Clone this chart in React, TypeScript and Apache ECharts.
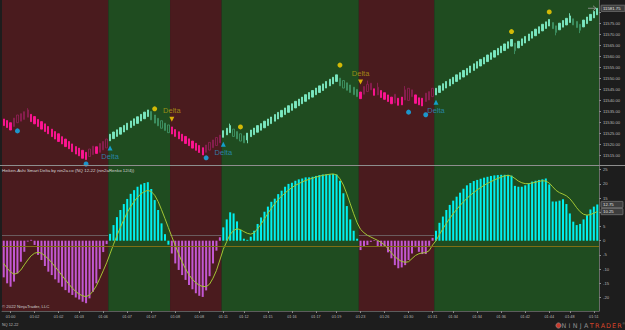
import React, { useEffect, useRef } from "react";
import * as echarts from "echarts";

// ---------------- data ----------------
const haOpen = [
  11531.6, 11530.9, 11529.9, 11528.2, 11529.9, 11530.6, 11531.4, 11532.4, 11533.7, 11532.7, 11531.4, 11530.4, 11529.4, 11528.2, 11527.0, 11525.9, 11524.9, 11523.6, 11522.5, 11521.4, 11520.3, 11519.1, 11518.4, 11517.4, 11516.5, 11514.6, 11515.5, 11519.0, 11516.5, 11517.6, 11518.5,
  11521.7, 11522.7, 11523.7, 11524.7, 11525.7, 11526.7, 11527.7, 11528.7, 11529.6, 11530.7, 11531.7, 11532.7, 11535.0, 11533.4, 11531.9, 11530.8, 11529.7, 11528.9,
  11528.0, 11526.8, 11525.8, 11524.7, 11523.7, 11522.6, 11521.6, 11520.6, 11519.6, 11518.6, 11516.5, 11517.5, 11518.6, 11519.6, 11520.8,
  11523.3, 11524.4, 11525.4, 11527.0, 11525.9, 11524.9, 11524.0, 11522.1, 11523.6,
  11524.5, 11525.6, 11526.5, 11527.6, 11528.6, 11529.5, 11530.6, 11531.6, 11532.5, 11533.6, 11534.6, 11535.5, 11536.6, 11537.6, 11538.5, 11539.6, 11540.6, 11541.5, 11542.6, 11543.6, 11544.5, 11545.6, 11546.6, 11547.5, 11548.6,
  11550.1, 11549.0, 11548.0, 11547.0, 11546.0, 11545.0,
  11543.8, 11542.8, 11544.0, 11544.8, 11545.3, 11542.5, 11544.5, 11543.5, 11542.5, 11541.5, 11538.8, 11541.0, 11541.5, 11540.2, 11540.0, 11541.7, 11542.5, 11541.2, 11541.0, 11539.5, 11540.2, 11541.7,
  11542.5, 11543.6, 11544.6, 11545.6, 11546.6, 11547.5, 11548.6, 11549.6, 11550.6, 11551.5, 11552.6, 11553.6, 11554.6, 11555.6, 11556.5, 11557.6, 11558.6, 11559.6, 11560.6, 11561.6, 11562.6, 11563.6, 11564.6,
  11566.0, 11563.8, 11564.9, 11566.0, 11567.1, 11568.2, 11569.3, 11570.4, 11571.5, 11572.6, 11573.7,
  11575.3, 11573.8, 11572.0, 11573.2, 11574.2, 11575.3, 11577.0, 11575.8, 11574.5, 11573.3, 11574.8, 11576.2, 11577.4, 11578.8,
];
const haClose = [
  11528.6, 11527.7, 11526.6, 11532.0, 11533.4, 11534.0, 11534.9, 11535.7, 11530.4, 11529.4, 11528.2, 11527.0, 11525.9, 11524.9, 11523.6, 11522.5, 11521.4, 11520.3, 11519.1, 11518.1, 11516.8, 11515.7, 11514.9, 11513.8, 11513.2, 11518.0, 11519.3, 11516.0, 11520.5, 11521.4, 11522.5,
  11524.7, 11525.7, 11526.7, 11527.7, 11528.7, 11529.7, 11530.7, 11531.7, 11532.6, 11533.7, 11534.7, 11535.7, 11531.2, 11529.7, 11528.5, 11527.4, 11526.4, 11525.4,
  11524.8, 11523.7, 11522.6, 11521.6, 11520.5, 11519.5, 11518.4, 11517.4, 11516.4, 11515.3, 11519.8, 11521.0, 11522.1, 11523.2, 11524.3,
  11526.3, 11527.4, 11528.6, 11523.7, 11522.6, 11521.6, 11520.8, 11525.2, 11526.6,
  11527.5, 11528.6, 11529.5, 11530.6, 11531.6, 11532.5, 11533.6, 11534.6, 11535.5, 11536.6, 11537.6, 11538.5, 11539.6, 11540.6, 11541.5, 11542.6, 11543.6, 11544.5, 11545.6, 11546.6, 11547.5, 11548.6, 11549.6, 11550.5, 11551.6,
  11546.6, 11545.6, 11544.6, 11543.6, 11542.6, 11541.7,
  11540.8, 11546.3, 11547.3, 11547.8, 11542.3, 11546.0, 11541.3, 11540.5, 11539.5, 11538.5, 11542.8, 11537.8, 11538.0, 11544.8, 11545.5, 11544.8, 11538.7, 11538.0, 11537.5, 11543.3, 11544.0, 11545.5,
  11545.5, 11546.6, 11547.6, 11548.6, 11549.6, 11550.5, 11551.6, 11552.6, 11553.6, 11554.5, 11555.6, 11556.6, 11557.6, 11558.6, 11559.5, 11560.6, 11561.6, 11562.6, 11563.6, 11564.6, 11565.6, 11566.6, 11567.6,
  11562.5, 11566.8, 11567.9, 11569.0, 11570.1, 11571.2, 11572.3, 11573.4, 11574.5, 11575.6, 11576.7,
  11572.5, 11570.8, 11575.0, 11576.2, 11577.2, 11578.3, 11574.2, 11573.0, 11571.8, 11576.4, 11577.8, 11579.0, 11580.3, 11581.75,
];
// [bar, low, high] for bars with visible wicks
const wicks = [
  [7, 11532.4, 11536.5], [66, 11525.4, 11529.5], [71, 11520.6, 11525.2], [106, 11544.0, 11549.0],
  [109, 11542.5, 11548.0], [117, 11540.2, 11546.5], [149, 11561.0, 11566.0], [161, 11569.5, 11573.8],
  [165, 11575.3, 11579.5], [168, 11570.5, 11574.5],
];
const histogram = [
  -12.9, -15.0, -16.2, -14.4, -11.5, -7.4, -3.9, -0.3, 0.3, -1.5, -5.0, -6.8, -8.9, -10.9, -12.1, -13.6, -14.8, -16.2, -17.4, -18.3, -19.1, -20.0, -20.7, -21.5, -22.0, -20.3, -18.0, -15.0, -10.0, -4.0, -1.2,
  2.4, 5.5, 8.3, 10.8, 12.9, 14.7, 16.5, 17.8, 19.0, 19.8, 20.3, 20.6, 18.2, 14.3, 10.8, 6.1, 2.3, -1.4,
  -4.5, -8.0, -10.3, -12.1, -13.8, -15.6, -17.1, -18.5, -19.4, -19.8, -17.5, -12.5, -8.0, -3.5, 1.2,
  4.7, 7.5, 10.0, 9.6, 6.8, 3.8, 0.7, 0.3, 1.4, 3.5, 5.9, 8.2, 10.2, 12.0, 13.7, 14.8, 16.4, 17.6, 19.0, 20.0, 20.4, 21.1, 21.6, 21.9, 22.3, 22.3, 22.5, 22.8, 23.1, 23.3, 23.4, 23.4, 23.5, 23.3, 21.1, 16.7, 12.2, 7.5, 3.5, 0.7,
  -3.3, -2.1, -1.5, -0.4, 0.2, -2.1, -2.0, -2.2, -4.1, -6.2, -8.6, -9.7, -9.4, -8.6, -6.8, -4.5, -2.3, -3.9, -4.7, -4.7, -1.8, 1.0,
  3.5, 6.3, 8.5, 10.8, 12.6, 14.1, 15.5, 16.9, 18.3, 19.5, 20.3, 21.0, 21.4, 21.8, 22.2, 22.5, 22.8, 23.0, 23.1, 23.2, 23.2, 23.2, 22.9,
  19.3, 19.0, 19.0, 19.5, 20.2, 20.8, 21.1, 21.4, 21.6, 21.9, 19.8,
  13.8, 13.8, 14.1, 14.6, 12.9, 9.6, 6.7, 5.5, 5.9, 7.5, 9.0, 11.0, 12.0, 12.75,
];
const signal = [
  -8.0, -9.7, -11.0, -11.8, -11.4, -10.3, -8.5, -6.8, -5.3, -4.4, -4.1, -4.4, -5.3, -6.4, -7.7, -9.2, -10.7, -12.3, -13.8, -15.3, -16.7, -17.9, -18.8, -19.4, -19.7, -19.1, -17.8, -15.9, -13.3, -10.6, -7.8,
  -4.6, -1.3, 1.8, 4.7, 7.4, 9.9, 12.0, 13.8, 15.3, 16.5, 17.3, 17.7, 17.3, 16.0, 13.8, 10.9, 7.8, 4.6,
  1.4, -1.7, -4.7, -7.5, -9.9, -12.0, -13.6, -14.8, -15.7, -16.1, -16.2, -15.3, -13.2, -10.5, -6.8,
  -3.0, -0.3, 2.2, 3.6, 4.2, 3.9, 3.2, 2.6, 2.3, 2.8, 4.2, 5.8, 7.7, 9.6, 11.4, 13.0, 14.5, 15.7, 16.8, 17.8, 18.7, 19.5, 20.1, 20.7, 21.2, 21.6, 22.0, 22.4, 22.7, 23.0, 23.2, 23.4, 23.5, 23.2, 21.8, 19.6, 16.5, 13.0, 9.5, 6.3,
  4.0, 2.8, 1.9, 1.3, 0.7, 0.1, -0.6, -1.5, -2.8, -4.3, -5.6, -6.6, -7.3, -7.6, -7.4, -6.3, -5.2, -4.6, -4.3, -4.2, -3.5, -1.5,
  0.0, 2.2, 4.2, 6.1, 7.9, 9.5, 11.0, 12.4, 13.7, 14.9, 16.0, 17.0, 17.9, 18.7, 19.5, 20.2, 20.8, 21.4, 21.9, 22.4, 22.8, 23.0, 22.7,
  21.9, 21.0, 20.4, 20.1, 20.1, 20.3, 20.6, 20.9, 21.1, 21.0, 20.3,
  19.0, 17.7, 16.9, 16.4, 15.8, 14.8, 13.3, 11.6, 10.2, 9.3, 9.0, 9.2, 9.7, 10.25,
];
// trend segments (bar ranges) and direction (1 = up/green, 0 = down/red)
const segStart = [0, 31, 49, 64, 104, 126];
const segEnd = [30, 48, 63, 103, 125, 173];
const segUp = [0, 1, 0, 1, 0, 1];
// markers: [bar, price]
const cyanDots = [[4, 11526.2], [24, 11511.2], [59, 11514.0], [118, 11534.7], [123, 11533.5]];
const yellowDots = [[44, 11536.2], [69, 11528.0], [98, 11556.0], [148, 11571.2], [159, 11580.1]];
const cyanDeltas = [[31, 11518.5], [64, 11520.2], [126, 11539.2]];
const yellowDeltas = [[49, 11531.5], [104, 11548.3]];
// axis ticks
const timeTickBars = [2, 9, 16, 22, 29, 36, 43, 50, 57, 64, 70, 77, 84, 91, 97, 104, 111, 118, 125, 131, 138, 145, 152, 159, 165, 172];
const timeTickLabels = ["01:00", "01:02", "01:02", "01:03", "01:06", "01:07", "01:07", "01:08", "01:08", "01:11", "01:12", "01:15", "01:16", "01:17", "01:19", "01:23", "01:26", "01:30", "01:31", "01:34", "01:34", "01:36", "01:42", "01:44", "01:48", "01:51"];
const priceTicks = [11515, 11520, 11525, 11530, 11535, 11540, 11545, 11550, 11555, 11560, 11565, 11570, 11575, 11580];
const priceLabels = [11515, 11520, 11525, 11530, 11535, 11540, 11545, 11550, 11555, 11560, 11565, 11570, 11575];
const deltaTicks = [-20, -15, -10, -5, 0, 5, 10, 15, 20, 25];
const deltaLabels = [-20, -15, -10, -5, 0, 5, 15, 20, 25];
const levelUpper = 2;
const levelLower = -2;
const logoText = "NINJATRADER";

// ---------------- styles ----------------
const RED_BG = "#4a1b1e";
const GREEN_BG = "#1f4c20";
const MINT = "#7ae8c2";
const HOLLOW_GREEN = "#3f9466";
const PINK = "#ff1493";
const HOLLOW_RED = "#8c1f52";
const CYAN = "#00f0f0";
const ORCHID = "#c257d2";
const SIGNAL = "#a3c634";
const FONT = "Liberation Sans, Arial, sans-serif";
const CLEAR = "rgba(0,0,0,0)";

const isUpBar = (i: number) => {
  for (let k = 0; k < segStart.length; k++) if (i >= segStart[k] && i <= segEnd[k]) return segUp[k] === 1;
  return false;
};

export default function App() {
  const ref = useRef<HTMLDivElement>(null);
  useEffect(() => {
    const chart = echarts.init(ref.current!, null, { renderer: "svg" });
    const cats = haOpen.map((_, i) => String(i));
    const wickMap = new Map<number, number[]>();
    wicks.forEach((w) => wickMap.set(w[0], w));
    const candleData = haOpen.map((o, i) => {
      const c = haClose[i];
      const w = wickMap.get(i);
      const lo = w ? w[1] : Math.min(o, c);
      const hi = w ? w[2] : Math.max(o, c);
      const regionUp = isUpBar(i);
      const bullish = c >= o;
      let fill = CLEAR;
      let stroke = HOLLOW_RED;
      if (regionUp && bullish) { fill = MINT; stroke = MINT; }
      else if (regionUp && !bullish) { fill = CLEAR; stroke = HOLLOW_GREEN; }
      else if (!regionUp && !bullish) { fill = PINK; stroke = PINK; }
      return {
        value: [o, c, lo, hi],
        itemStyle: { color: fill, color0: fill, borderColor: stroke, borderColor0: stroke, borderWidth: 0.9 },
      };
    });
    const histData = histogram.map((v, i) => ({ value: v, itemStyle: { color: isUpBar(i) ? CYAN : ORCHID } }));
    const segData = segStart.map((s, k) => [s, segEnd[k], segUp[k]]);
    const tickSet = new Set(timeTickBars);
    const tickLabelMap = new Map<number, string>();
    timeTickBars.forEach((b, k) => tickLabelMap.set(b, timeTickLabels[k]));

    const bgRender = (withLevel: boolean) => (params: any, api: any) => {
      const s = api.value(0);
      const e = api.value(1);
      const up = api.value(2);
      const bw = api.size([1, 0])[0];
      const x0 = api.coord([s, 0])[0] - bw / 2;
      const x1 = api.coord([e, 0])[0] + bw / 2;
      const cs = params.coordSys;
      const children: any[] = [
        { type: "rect", shape: { x: x0, y: cs.y, width: x1 - x0, height: cs.height }, style: { fill: up ? GREEN_BG : RED_BG } },
      ];
      if (withLevel && !up) {
        const yl = Math.round(api.coord([s, levelUpper])[1]) + 0.5;
        children.push({ type: "line", shape: { x1: x0, y1: yl, x2: x1, y2: yl }, style: { stroke: "#6a5c5e", lineWidth: 1 } });
      }
      return { type: "group", children };
    };

    const axisLabelStyle = { color: "#b8b8b8", fontFamily: FONT };

    chart.setOption({
      animation: false,
      backgroundColor: "#1d1d1d",
      textStyle: { fontFamily: FONT },
      grid: [
        { left: 2, right: 26, top: 0, height: 165 },
        { left: 2, right: 26, top: 166, height: 145 },
      ],
      xAxis: [
        {
          type: "category", gridIndex: 0, data: cats, boundaryGap: true,
          axisLine: { show: false, onZero: false }, axisTick: { show: false }, axisLabel: { show: false }, splitLine: { show: false },
        },
        {
          type: "category", gridIndex: 1, data: cats, boundaryGap: true,
          axisLine: { show: true, onZero: false, lineStyle: { color: "#5c5c5c" } },
          axisTick: { show: true, alignWithLabel: true, interval: (i: number) => tickSet.has(i), length: 2, lineStyle: { color: "#8a8a8a" } },
          axisLabel: {
            interval: (i: number) => tickSet.has(i),
            formatter: (v: string) => tickLabelMap.get(Number(v)) || "",
            fontSize: 3.8, margin: 4, ...axisLabelStyle,
          },
          splitLine: { show: false },
        },
      ],
      yAxis: [
        {
          type: "value", gridIndex: 0, position: "right", min: 11510.75, max: 11585.5, scale: true,
          axisLine: { show: true, lineStyle: { color: "#6a6a6a" } },
          axisTick: { show: true, customValues: priceTicks, length: 2, lineStyle: { color: "#8a8a8a" } },
          axisLabel: { customValues: priceLabels, formatter: (v: number) => v.toFixed(2), fontSize: 4.2, margin: 4, ...axisLabelStyle },
          splitLine: { show: false },
        },
        {
          type: "value", gridIndex: 1, position: "right", min: -24.75, max: 26.3,
          axisLine: { show: true, lineStyle: { color: "#6a6a6a" } },
          axisTick: { show: true, customValues: deltaTicks, length: 2, lineStyle: { color: "#8a8a8a" } },
          axisLabel: { customValues: deltaLabels, fontSize: 4.2, margin: 4, ...axisLabelStyle },
          splitLine: { show: false },
        },
      ],
      series: [
        {
          type: "custom", xAxisIndex: 0, yAxisIndex: 0, data: segData, renderItem: bgRender(false),
          encode: { x: [0, 1], y: 2 }, z: 0, silent: true,
        },
        {
          type: "custom", xAxisIndex: 1, yAxisIndex: 1, data: segData, renderItem: bgRender(true),
          encode: { x: [0, 1], y: 2 }, z: 0, silent: true,
        },
        {
          type: "candlestick", xAxisIndex: 0, yAxisIndex: 0, data: candleData, barWidth: 1.8, z: 3, silent: true,
        },
        {
          type: "bar", xAxisIndex: 1, yAxisIndex: 1, data: histData, barWidth: 2, z: 3, silent: true,
        },
        {
          type: "line", xAxisIndex: 1, yAxisIndex: 1, data: signal, showSymbol: false, z: 4, silent: true,
          lineStyle: { color: SIGNAL, width: 1 },
          markLine: {
            silent: true, symbol: "none", label: { show: false },
            lineStyle: { color: "#7f6f14", width: 1, type: "solid" },
            data: [{ yAxis: levelLower }],
          },
        },
        {
          type: "scatter", xAxisIndex: 0, yAxisIndex: 0, data: cyanDots, symbol: "circle", symbolSize: 5, z: 5, silent: true,
          itemStyle: { color: "#12b4f5" },
        },
        {
          type: "scatter", xAxisIndex: 0, yAxisIndex: 0, data: yellowDots, symbol: "circle", symbolSize: 5, z: 5, silent: true,
          itemStyle: { color: "#ffd400" },
        },
        {
          type: "scatter", xAxisIndex: 0, yAxisIndex: 0, data: cyanDeltas, symbol: "triangle", symbolSize: [5, 5], z: 5, silent: true,
          itemStyle: { color: "#12b4f5" },
          label: { show: true, position: "bottom", distance: 2, formatter: "Delta", color: "#2a93c4", fontSize: 7.5, fontFamily: FONT },
        },
        {
          type: "scatter", xAxisIndex: 0, yAxisIndex: 0, data: yellowDeltas, symbol: "triangle", symbolRotate: 180, symbolSize: [5, 5], z: 5, silent: true,
          itemStyle: { color: "#ffd400" },
          label: { show: true, position: "top", distance: 2, formatter: "Delta", color: "#b9a114", fontSize: 7.5, fontFamily: FONT },
        },
      ],
    });

    const last = haClose.length - 1;
    const yPrice = chart.convertToPixel({ yAxisIndex: 0 }, haClose[last]) as number;
    const yHist = chart.convertToPixel({ yAxisIndex: 1 }, histogram[last]) as number;
    const ySig = chart.convertToPixel({ yAxisIndex: 1 }, signal[last]) as number;
    const box = (y: number, txt: string, w: number) => ({
      type: "group",
      z: 20,
      children: [
        { type: "rect", shape: { x: 601, y: y - 3.1, width: w, height: 6.2, r: 0.5 }, style: { fill: "#3d3d3d", stroke: "#8c8c8c", lineWidth: 0.6 } },
        { type: "text", x: 603, y, style: { text: txt, fill: "#e6e6e6", fontSize: 4.3, fontFamily: FONT, verticalAlign: "middle" } },
      ],
    });
    const logoLetters = logoText.split("").map((ch, k) => ({
      type: "text", z: 10, x: 564 + k * 5.55, y: 325.8,
      style: { text: ch, fill: k < 5 ? "#8e8e8e" : "#d9452b", fontSize: 6.4, fontFamily: "DejaVu Sans", align: "center", verticalAlign: "middle" },
    }));

    chart.setOption({
      graphic: {
        elements: [
          { type: "line", z: 10, shape: { x1: 0, y1: 165.5, x2: 625, y2: 165.5 }, style: { stroke: "#8e8e8e", lineWidth: 1 } },
          {
            type: "text", z: 10, x: 2, y: 170,
            style: { text: "Heiken-Ashi Smart Delta by nin2a.co (NQ 12-22 (nin2aRenko 12/4))", fill: "#d6d6d6", fontSize: 4.4, fontFamily: FONT, verticalAlign: "middle" },
          },
          {
            type: "text", z: 10, x: 2, y: 306,
            style: { text: "© 2022 NinjaTrader, LLC", fill: "#cfcfcf", fontSize: 4.3, fontFamily: FONT, verticalAlign: "middle" },
          },
          {
            type: "text", z: 10, x: 2, y: 325,
            style: { text: "NQ 12-22", fill: "#bdbdbd", fontSize: 3.8, fontFamily: FONT, verticalAlign: "middle" },
          },
          // current price arrow
          { type: "line", z: 10, shape: { x1: 588, y1: yPrice, x2: 596, y2: yPrice }, style: { stroke: "#a0a0a0", lineWidth: 0.8 } },
          { type: "polyline", z: 10, shape: { points: [[593, yPrice - 2.5], [596, yPrice], [593, yPrice + 2.5]] }, style: { stroke: "#a0a0a0", lineWidth: 0.8, fill: "none" } },
          box(yPrice, haClose[last].toFixed(2), 24),
          box(yHist, histogram[last].toFixed(2), 22),
          box(ySig, signal[last].toFixed(2), 22),
          // NinjaTrader logo
          { type: "circle", z: 10, shape: { cx: 558.5, cy: 325.5, r: 2.6 }, style: { fill: "#c8392b", stroke: "#9a9a9a", lineWidth: 0.6 } },
          ...logoLetters,
          { type: "text", z: 10, x: 622.5, y: 323.5, style: { text: "®", fill: "#8e8e8e", fontSize: 3.2, fontFamily: FONT, verticalAlign: "middle" } },
        ],
      },
    });

    return () => chart.dispose();
  }, []);
  return <div ref={ref} style={{ position: "fixed", left: 0, top: 0, width: 625, height: 330, background: "#1d1d1d" }} />;
}
